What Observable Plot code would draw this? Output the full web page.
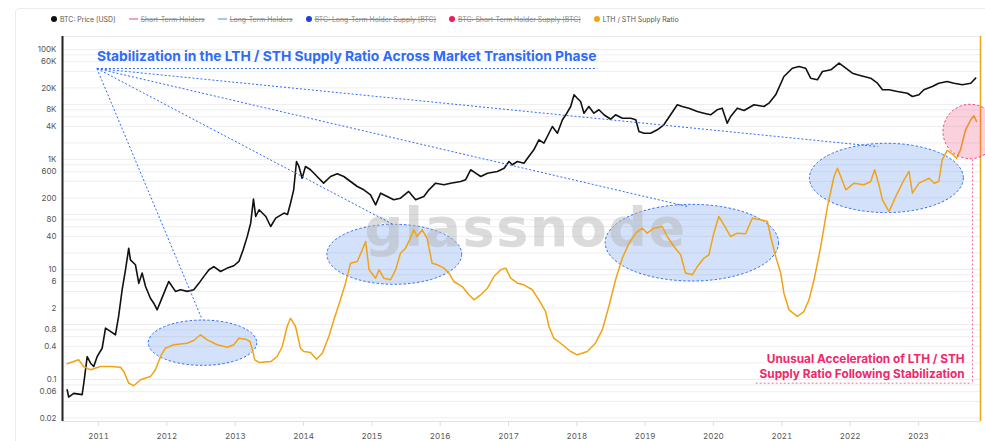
<!DOCTYPE html>
<html>
<head>
<meta charset="utf-8">
<script src="https://cdn.jsdelivr.net/npm/d3@7"></script>
<script src="https://cdn.jsdelivr.net/npm/@observablehq/plot@0.6"></script>
<style>
html,body{margin:0;padding:0;background:#fff;}
body{width:985px;height:441px;overflow:hidden;position:relative;font-family:Inter,"Noto Sans",sans-serif;}
#card{position:absolute;left:15px;top:8px;width:1000px;height:470px;border:1px solid #ececec;border-radius:4px;box-sizing:border-box;}
#legend{position:relative;height:30px;box-sizing:border-box;padding-top:8px;padding-left:51px;display:flex;align-items:center;gap:13px;font-size:6.9px;color:#555;white-space:nowrap;}
#legend .item{display:flex;align-items:center;gap:3px;}
#legend .dot{width:6px;height:6px;border-radius:50%;display:inline-block;}
#legend .ln{width:9px;height:1.5px;display:inline-block;}
#legend .off{text-decoration:line-through;color:#8a8a8a;}
#chart{position:relative;}
</style>
</head>
<body>
<div id="card"></div>
<div id="legend"></div>
<div id="chart"></div>
<script>
// ---------- data ----------
const priceDates = ["2010-07-17","2010-07-25","2010-08-21","2010-10-05","2010-10-14","2010-11-01","2010-11-19","2010-12-06","2010-12-24",
"2011-01-20","2011-02-07","2011-03-05","2011-04-01","2011-04-18","2011-05-07","2011-05-25","2011-06-11","2011-06-20","2011-07-17","2011-08-04","2011-08-22","2011-09-09","2011-10-05","2011-10-23","2011-11-10","2011-11-28","2011-12-24",
"2012-01-11","2012-02-16","2012-03-14","2012-04-19","2012-05-24","2012-06-20","2012-07-17","2012-08-13","2012-09-08","2012-10-14","2012-11-19","2012-12-24",
"2013-01-20","2013-02-12","2013-03-06","2013-03-24","2013-04-08","2013-04-20","2013-05-08","2013-06-13","2013-07-09","2013-08-05","2013-09-18","2013-10-07","2013-10-23","2013-11-09","2013-11-24","2013-12-07","2013-12-24",
"2014-01-11","2014-02-07","2014-03-14","2014-04-18","2014-05-25","2014-06-30","2014-08-04","2014-09-09","2014-10-15","2014-11-19","2014-12-25",
"2015-01-21","2015-02-17","2015-03-24","2015-04-28","2015-06-03","2015-07-17","2015-08-23","2015-10-06","2015-11-02","2015-12-08",
"2016-01-21","2016-02-26","2016-04-20","2016-05-16","2016-06-12","2016-07-09","2016-08-05","2016-09-10","2016-11-02","2016-12-08",
"2017-01-03","2017-01-21","2017-02-17","2017-03-24","2017-04-19","2017-05-16","2017-06-12","2017-07-09","2017-07-27","2017-08-23","2017-09-19","2017-10-16","2017-11-03","2017-11-29","2017-12-17",
"2018-01-03","2018-01-21","2018-02-08","2018-03-06","2018-04-02","2018-04-29","2018-05-26","2018-07-01","2018-07-27","2018-09-01","2018-10-16","2018-11-12","2018-11-29","2018-12-26",
"2019-01-30","2019-03-07","2019-04-11","2019-05-17","2019-06-22","2019-07-18","2019-08-23","2019-10-07","2019-11-11","2019-12-17",
"2020-01-21","2020-02-17","2020-03-15","2020-04-02","2020-05-08","2020-06-13","2020-08-05","2020-09-27","2020-10-24","2020-11-29",
"2021-01-12","2021-02-26","2021-04-02","2021-05-08","2021-06-04","2021-07-10","2021-08-06","2021-09-20","2021-11-03","2021-12-09",
"2022-01-13","2022-02-09","2022-03-16","2022-04-21","2022-05-27","2022-06-23","2022-07-28","2022-09-11","2022-11-03","2022-11-30",
"2023-01-04","2023-01-30","2023-03-16","2023-04-20","2023-06-04","2023-07-10","2023-08-24","2023-10-08","2023-11-03"];
const priceValues = [0.065,0.048,0.056,0.053,0.086,0.26,0.198,0.172,0.26,
0.37,0.86,0.75,0.65,1.4,4.3,9.9,24.4,15,12.2,5.6,8.6,4.9,3.0,2.44,1.85,2.6,4.3,
6.05,4.0,4.3,4.0,4.3,5.6,7.5,9.9,11.3,9.2,10.6,11.7,
14,22.8,40,69.5,190,92,122,92,60.5,86,106,100,160,281,920,747,457,
747,650,491,371,491,550,491,398,323,281,228,
150,244,212,185,198,262,185,212,281,371,
347,371,398,428,650,564,491,564,605,695,
920,802,920,857,1135,1500,2280,1980,2620,3980,3010,5270,6500,9200,15000,
13000,11350,6950,9200,6950,8020,6500,5400,6500,5640,5640,5270,3230,3010,
3010,3470,4280,6500,9880,9200,8570,7460,6950,6500,
8020,8570,4570,6050,8570,7780,9880,9200,10560,15000,
32300,45700,49100,45700,30100,28100,39800,42700,56400,45700,
37100,34700,32300,30100,24400,18500,18500,17200,16000,14000,
15000,18500,21200,24400,26200,24400,22800,24400,30100];

const ratioDates = ["2010-07-17","2010-09-16","2010-10-13","2010-11-19","2011-01-11","2011-03-05","2011-04-28","2011-05-16","2011-06-11","2011-07-08","2011-08-13","2011-10-05","2011-11-01","2011-11-28","2011-12-24",
"2012-02-07","2012-04-18","2012-05-24","2012-06-29","2012-08-04","2012-09-26","2012-11-19","2012-12-24",
"2013-01-20","2013-02-25","2013-03-21","2013-04-02","2013-04-15","2013-05-08","2013-07-09","2013-08-13","2013-09-09","2013-10-05","2013-10-23","2013-11-19","2013-12-15",
"2014-01-02","2014-02-07","2014-03-11","2014-04-11","2014-05-16","2014-06-12","2014-07-17","2014-08-13","2014-09-09","2014-10-15","2014-11-11","2014-11-29","2014-12-17",
"2015-01-21","2015-02-08","2015-03-06","2015-04-11","2015-05-08","2015-06-03","2015-06-30","2015-07-26","2015-08-13","2015-08-31","2015-09-27","2015-10-23","2015-11-19","2015-12-17",
"2016-01-21","2016-02-17","2016-03-14","2016-04-28","2016-06-03","2016-06-30","2016-08-05","2016-09-10","2016-10-15","2016-11-20","2016-12-17",
"2017-01-12","2017-02-17","2017-03-24","2017-05-08","2017-06-12","2017-07-18","2017-08-05","2017-08-31","2017-10-16","2017-11-29",
"2018-01-03","2018-02-26","2018-04-10","2018-05-17","2018-06-21","2018-07-27","2018-09-01","2018-10-07","2018-11-12","2018-12-17",
"2019-01-12","2019-02-17","2019-04-02","2019-04-29","2019-06-04","2019-07-10","2019-08-05","2019-09-10","2019-10-07","2019-11-11","2019-12-08",
"2020-01-03","2020-01-30","2020-02-26","2020-04-02","2020-05-08","2020-06-21","2020-07-27","2020-09-10","2020-10-16","2020-11-02","2020-11-29","2020-12-26",
"2021-01-12","2021-02-08","2021-03-25","2021-04-29","2021-05-26","2021-06-22","2021-07-28","2021-09-02","2021-10-07","2021-10-25","2021-11-12","2021-12-09",
"2022-01-22","2022-03-16","2022-04-21","2022-05-12","2022-06-04","2022-06-23","2022-07-28","2022-09-02","2022-10-16","2022-11-12","2022-11-30",
"2023-01-04","2023-02-27","2023-03-26","2023-04-20","2023-05-08","2023-06-04","2023-07-01","2023-07-24","2023-08-14","2023-09-10","2023-10-08","2023-10-25","2023-11-08"];
const ratioValues = [0.193,0.228,0.172,0.150,0.172,0.172,0.167,0.140,0.086,0.077,0.099,0.113,0.150,0.262,0.371,
0.428,0.457,0.512,0.650,0.527,0.428,0.386,0.428,
0.564,0.541,0.491,0.347,0.228,0.204,0.212,0.262,0.398,0.92,1.30,0.92,0.371,
0.323,0.310,0.234,0.301,0.605,1.22,2.81,5.64,13.0,14.0,22.8,32.3,9.9,
6.95,9.9,6.95,6.5,9.9,19.8,24.4,37.1,52.7,39.8,52.7,37.1,13.0,12.2,
10.6,8.6,6.05,4.9,3.47,2.81,3.47,4.57,7.46,9.9,10.6,
6.95,5.64,5.27,4.28,2.81,1.72,0.92,0.564,0.428,0.323,
0.281,0.323,0.457,0.80,2.12,6.5,16.0,30.1,45.7,56.4,
45.7,56.4,60.5,39.8,26.2,18.5,8.6,8.0,11.3,16.0,18.5,
45.7,92,65,39.8,45.7,44.6,85.7,80.2,74.6,39.8,17.2,8.6,
3.71,1.85,1.40,1.72,2.81,6.5,26.2,140,491,695,491,281,
371,347,398,650,347,185,113,212,428,605,244,
371,457,371,398,988,1460,1270,1057,1500,3470,5270,6240,4910];

const yTicks = [0.02,0.06,0.1,0.4,0.8,2,6,10,40,80,200,600,1000,4000,8000,20000,60000,100000];
const yTickLabels = ["0.02","0.06","0.1","0.4","0.8","2","6","10","40","80","200","600","1K","4K","8K","20K","60K","100K"];
const gridValues = [0.02,0.04,0.06,0.08,0.1,0.2,0.4,0.6,0.8,1,2,4,6,8,10,20,40,60,80,100,200,400,600,800,1000,2000,4000,6000,8000,10000,20000,40000,60000,80000,100000];
const xTickYears = ["2011","2012","2013","2014","2015","2016","2017","2018","2019","2020","2021","2022","2023"];
const xDomainDates = ["2010-06-22","2023-11-29"];
const yDomainValues = [0.01723, 172300];

// legend
const legendLabels = ["BTC: Price [USD]","Short-Term Holders","Long-Term Holders","BTC: Long-Term Holder Supply [BTC]","BTC: Short-Term Holder Supply [BTC]","LTH / STH Supply Ratio"];
const legendColors = ["#111111","#f4a3b4","#a9c4f2","#1f3fe0","#ef1b5c","#f5a313"];
const legendShapes = ["dot","line","line","dot","dot","dot"];
const legendHidden = [false,true,true,true,true,false];

// annotations
const titleText = "Stabilization in the LTH / STH Supply Ratio Across Market Transition Phase";
const titleDate = "2010-12-23", titleValue = 73100;
const fanOriginDate = "2010-12-23", fanOriginValue = 45130;
const underlineEndDate = "2018-04-21";
const fanEndDates = ["2012-07-08","2015-04-28","2019-08-14","2022-05-28"];
const fanEndValues = [1.22, 65, 140, 1720];
const zoneStart = ["2011-09-26","2014-05-08","2018-06-04","2021-05-31"];
const zoneEnd = ["2013-04-28","2016-04-28","2020-12-17","2023-09-01"];
const zoneLow = [0.177, 5.27, 6.05, 106];
const zoneHigh = [1.18, 65, 150, 1930];
const hotStart = "2023-05-15", hotEnd = "2024-03-01", hotLow = 1012, hotHigh = 9880;
const noteLines = ["Unusual Acceleration of LTH / STH","Supply Ratio Following Stabilization"];
const noteValues = [0.234, 0.127];
const noteDate = "2023-09-05";
const bracketDate = "2023-10-17", bracketStartDate = "2020-08-14", bracketTop = 1000, bracketBottom = 0.0857;

// ---------- build ----------
const parse = d3.utcParse("%Y-%m-%d");
const priceRows = priceDates.map((d,i)=>({date:parse(d), value:priceValues[i]}));
const ratioRows = ratioDates.map((d,i)=>({date:parse(d), value:ratioValues[i]}));
const xTicks = xTickYears.map(y=>parse(y+"-01-01"));
const xDomain = xDomainDates.map(parse);

const legend = d3.select("#legend");
legendLabels.forEach((lab,i)=>{
  const it = legend.append("div").attr("class","item");
  it.append("span").attr("class", legendShapes[i]==="dot"?"dot":"ln").style("background", legendColors[i]);
  it.append("span").attr("class", legendHidden[i]?"off":"").text(lab);
});

const blue = "#2f6cf6";
const pink = "#f0286a";
const fanLinks = fanEndDates.map((d,i)=>({x1:parse(fanOriginDate), y1:fanOriginValue, x2:parse(d), y2:fanEndValues[i]}));

const plot = Plot.plot({
  width: 985, height: 411,
  marginTop: 6, marginBottom: 20, marginLeft: 62, marginRight: 5,
  style: {fontFamily: "Inter, 'Noto Sans', sans-serif", fontSize: "8px", color: "#555", background: "transparent", overflow: "visible"},
  x: {type: "utc", domain: xDomain, ticks: xTicks, tickFormat: d3.utcFormat("%Y"), tickSize: 5, tickPadding: 7, label: null},
  y: {type: "log", domain: yDomainValues, axis: null, label: null},
  marks: [
    Plot.ruleY(gridValues, {stroke: "#eeeeee", strokeWidth: 1}),
    Plot.ruleY([yDomainValues[1]], {stroke: "#e8e8e8"}),
    Plot.ruleY([yDomainValues[0]], {stroke: "#e0e0e0"}),
    Plot.text(["glassnode"], {frameAnchor: "middle", dx: 4, dy: 0, fontSize: 54, fontWeight: 700, fill: "#b8b8b8", fillOpacity: 0.5, fontFamily: "'DejaVu Sans', sans-serif"}),
    Plot.text(yTicks, {x: xDomain[0], y: d => d, text: (d,i) => yTickLabels[i], textAnchor: "end", dx: -6, fontSize: 8, fill: "#555"}),
    Plot.line(priceRows, {x: "date", y: "value", stroke: "#111", strokeWidth: 1.6}),
    Plot.line(ratioRows, {x: "date", y: "value", stroke: "#f2a313", strokeWidth: 1.5}),
    Plot.link(fanLinks, {x1: "x1", y1: "y1", x2: "x2", y2: "y2", stroke: blue, strokeWidth: 1, strokeDasharray: "2,2"}),
    Plot.link([{a: parse(fanOriginDate), b: parse(underlineEndDate), v: fanOriginValue}], {x1: "a", x2: "b", y1: "v", y2: "v", stroke: blue, strokeWidth: 1, strokeDasharray: "2,2"}),
    Plot.text([titleText], {x: parse(titleDate), y: titleValue, text: d => d, textAnchor: "start", fontSize: 13.8, fontWeight: 700, fill: blue}),
    Plot.link([{x1: parse(bracketDate), x2: parse(bracketDate), y1: bracketTop, y2: bracketBottom}, {x1: parse(bracketStartDate), x2: parse(bracketDate), y1: bracketBottom, y2: bracketBottom}], {x1: "x1", x2: "x2", y1: "y1", y2: "y2", stroke: "#f3709a", strokeWidth: 1, strokeDasharray: "2,2"}),
    Plot.text(noteLines, {x: parse(noteDate), y: (d,i) => noteValues[i], text: d => d, textAnchor: "end", fontSize: 11.8, fontWeight: 700, fill: pink}),
    Plot.ruleX([xDomain[0]], {stroke: "#222", strokeWidth: 2}),
    Plot.ruleX([xDomain[1]], {stroke: "#f2a313", strokeWidth: 1.5})
  ]
});

document.getElementById("chart").appendChild(plot);
const svg = d3.select(plot.tagName.toLowerCase() === "svg" ? plot : plot.querySelector("svg"));
const sx = plot.scale("x"), sy = plot.scale("y");

// watermark letter spacing
svg.select('g[aria-label="text"]').selectAll("text").style("letter-spacing", "1.5px");

// ellipse zones drawn with Plot's scales, placed under the watermark and lines
const g = svg.insert("g", 'g[aria-label="text"]');
zoneStart.forEach((s,i)=>{
  const xa = sx.apply(parse(s)), xb = sx.apply(parse(zoneEnd[i]));
  const ya = sy.apply(zoneLow[i]), yb = sy.apply(zoneHigh[i]);
  g.append("ellipse").attr("cx",(xa+xb)/2).attr("cy",(ya+yb)/2).attr("rx",Math.abs(xb-xa)/2).attr("ry",Math.abs(ya-yb)/2)
    .attr("fill","rgba(80,135,240,0.25)").attr("stroke",blue).attr("stroke-width",1).attr("stroke-dasharray","2.5,2");
});
{
  const xa = sx.apply(parse(hotStart)), xb = sx.apply(parse(hotEnd));
  const ya = sy.apply(hotLow), yb = sy.apply(hotHigh);
  svg.append("ellipse").attr("cx",(xa+xb)/2).attr("cy",(ya+yb)/2).attr("rx",Math.abs(xb-xa)/2).attr("ry",Math.abs(ya-yb)/2)
    .attr("fill","rgba(240,70,120,0.25)").attr("stroke","#f0477f").attr("stroke-width",1).attr("stroke-dasharray","2.5,2");
}
svg.selectAll('g[aria-label="x-axis tick"] path, g[aria-label="x-axis tick"] line').attr("stroke","#dcdcdc");
</script>
</body>
</html>
